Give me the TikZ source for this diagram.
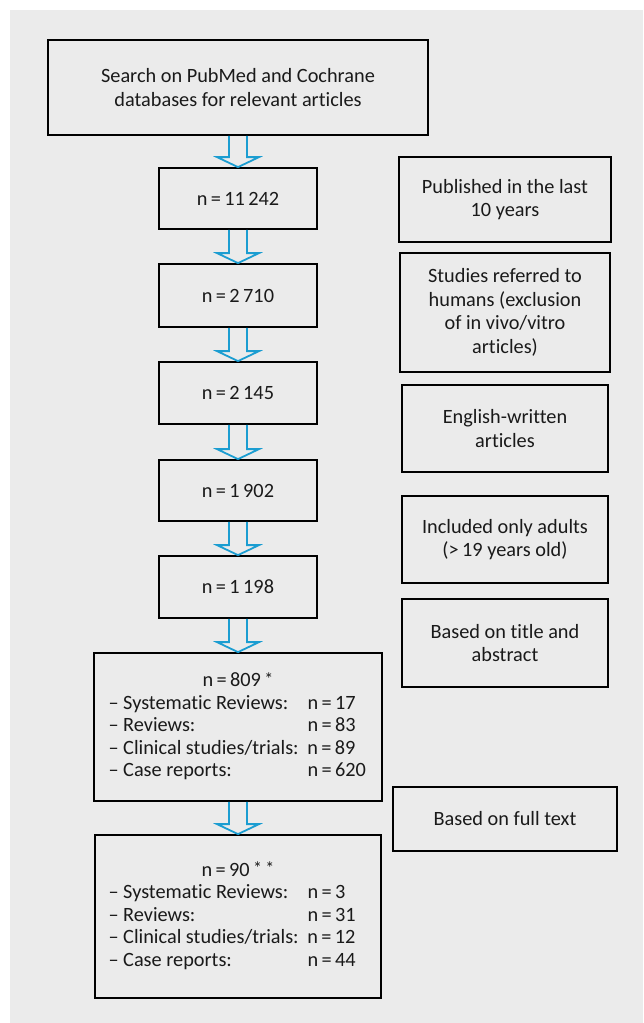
\documentclass[tikz,border=0pt]{standalone}
\usepackage{fontspec}
\setmainfont{Carlito}[Ligatures={NoCommon}]
\usepackage{array}
\usetikzlibrary{calc}
\definecolor{bggray}{HTML}{EBEBEB}
\definecolor{arrblue}{HTML}{1B9DD1}
\definecolor{txt}{HTML}{1A1A1A}
\tikzset{
  flowbox/.style={draw=black, line width=1.8pt, align=center, inner sep=0pt, text=txt,
    font=\fontsize{20.3}{23.5}\selectfont},
  listbox/.style={flowbox, font=\fontsize{20.3}{22.5}\selectfont},
  hollow/.style={draw=arrblue, line width=1.8pt, line join=miter},
}
\newcommand{\harrow}[2]{%
  \draw[hollow] ($(#1.south)+(-9,0)$) -- ($(#2.north)+(-9,-10)$) -- ($(#2.north)+(-21,-10)$)
    -- (#2.north) -- ($(#2.north)+(21,-10)$) -- ($(#2.north)+(9,-10)$) -- ($(#1.south)+(9,0)$);}
\newcommand{\myast}{\raisebox{1.5pt}{\fontsize{18}{18}\selectfont *}}
\begin{document}
\begin{tikzpicture}[x=1pt, y=-1pt]
\useasboundingbox (0,0) rectangle (643,1023);
\fill[bggray] (10,10) rectangle (643,1023);
% main column
\node[flowbox, minimum width=380pt, minimum height=95pt] (search) at (238,87.5)
  {Search on PubMed and Cochrane\\databases for relevant articles};
\node[flowbox, minimum width=158pt, minimum height=61pt] (n1) at (238,198.5) {n\,=\,11\,242};
\node[flowbox, minimum width=158pt, minimum height=63pt] (n2) at (238,295.5) {n\,=\,2\,710};
\node[flowbox, minimum width=158pt, minimum height=62pt] (n3) at (238,393) {n\,=\,2\,145};
\node[flowbox, minimum width=158pt, minimum height=61pt] (n4) at (238,490.5) {n\,=\,1\,902};
\node[flowbox, minimum width=158pt, minimum height=62pt] (n5) at (238,587) {n\,=\,1\,198};
\node[listbox, minimum width=288pt, minimum height=148pt] (n6) at (238,727)
  {\begin{tabular}{@{}p{199pt}@{}p{60pt}@{}}
   \multicolumn{2}{@{}c@{}}{n\,=\,809\,\myast}\\
   – Systematic Reviews: & n\,=\,17\\
   – Reviews: & n\,=\,83\\
   – Clinical studies/trials: & n\,=\,89\\
   – Case reports: & n\,=\,620
   \end{tabular}};
\node[listbox, minimum width=286pt, minimum height=163pt] (n7) at (238,916.5)
  {\begin{tabular}{@{}p{199pt}@{}p{60pt}@{}}
   \multicolumn{2}{@{}c@{}}{n\,=\,90\,\myast\,\myast}\\
   – Systematic Reviews: & n\,=\,3\\
   – Reviews: & n\,=\,31\\
   – Clinical studies/trials: & n\,=\,12\\
   – Case reports: & n\,=\,44
   \end{tabular}};
% right column
\node[flowbox, minimum width=212pt, minimum height=85pt] (r1) at (505,199.5)
  {Published in the last\\10 years};
\node[flowbox, minimum width=210pt, minimum height=119pt] (r2) at (505,312.5)
  {Studies referred to\\humans (exclusion\\of in vivo/vitro\\articles)};
\node[flowbox, minimum width=206pt, minimum height=87pt] (r3) at (505,428.5)
  {English-written\\articles};
\node[flowbox, minimum width=206pt, minimum height=87pt] (r4) at (505,539.5)
  {Included only adults\\(>\,19 years old)};
\node[flowbox, minimum width=206pt, minimum height=88pt] (r5) at (505,643)
  {Based on title and\\abstract};
\node[flowbox, minimum width=224pt, minimum height=64pt] (r6) at (505,819)
  {Based on full text};
% arrows
\harrow{search}{n1}
\harrow{n1}{n2}
\harrow{n2}{n3}
\harrow{n3}{n4}
\harrow{n4}{n5}
\harrow{n5}{n6}
\harrow{n6}{n7}
\end{tikzpicture}
\end{document}
